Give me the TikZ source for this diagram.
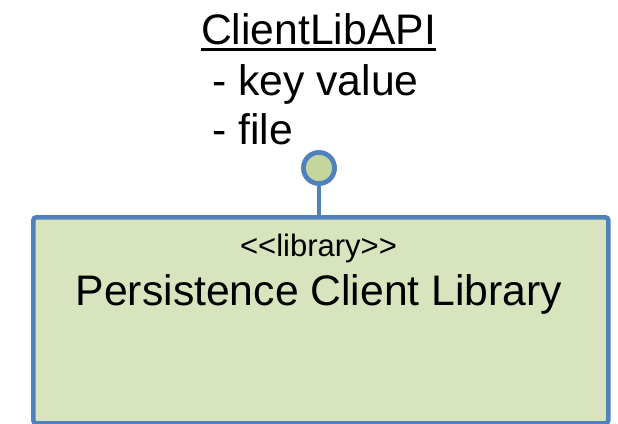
\documentclass[tikz,border=0pt]{standalone}
\usepackage{fontspec}
\setmainfont{Liberation Sans}[Ligatures=TeXOff]
\usetikzlibrary{shadows}
\definecolor{umlblue}{HTML}{4F81BD}
\definecolor{libfill}{HTML}{D7E4BD}
\definecolor{portfill}{HTML}{C3D69B}
\tikzset{
  bigtext/.style={inner sep=0pt, font=\fontsize{42.7}{50}\selectfont},
  smalltext/.style={inner sep=0pt, font=\fontsize{31}{37}\selectfont},
  component/.style={draw=umlblue, fill=libfill, line width=4.6pt, rounded corners=3pt,
    drop shadow={shadow xshift=1pt, shadow yshift=-1pt, opacity=0.25}},
  port/.style={draw=umlblue, fill=portfill, line width=4.6pt, circle, minimum size=31pt, inner sep=0pt},
  stem/.style={draw=umlblue, line width=4.6pt}
}
\begin{document}
\begin{tikzpicture}[x=1pt, y=-1pt]
  \useasboundingbox (0,0) rectangle (618,423);
  % component box
  \node[component, minimum width=575pt, minimum height=206pt, anchor=north west] (lib) at (31,215) {};
  % provided interface (lollipop)
  \node[port] (api) at (319,168) {};
  \draw[stem] (api.south) -- (api.south |- lib.north);
  \node[port] at (319,168) {};
  % interface label
  \node[bigtext, anchor=base] (title) at (318.5,44) {ClientLibAPI};
  \draw[line width=3pt] ([yshift=-5pt]title.base west) -- ([yshift=-5pt]title.base east);
  \node[bigtext, anchor=base west] (kv) at (212,95) {- key value};
  \node[bigtext, anchor=base west] (file) at (212,144) {- file};
  % component labels
  \node[smalltext, anchor=base] (stereo) at (318.5,256) {<<library>>};
  \node[bigtext, anchor=base] (name) at (319,305) {Persistence Client Library};
\end{tikzpicture}
\end{document}
